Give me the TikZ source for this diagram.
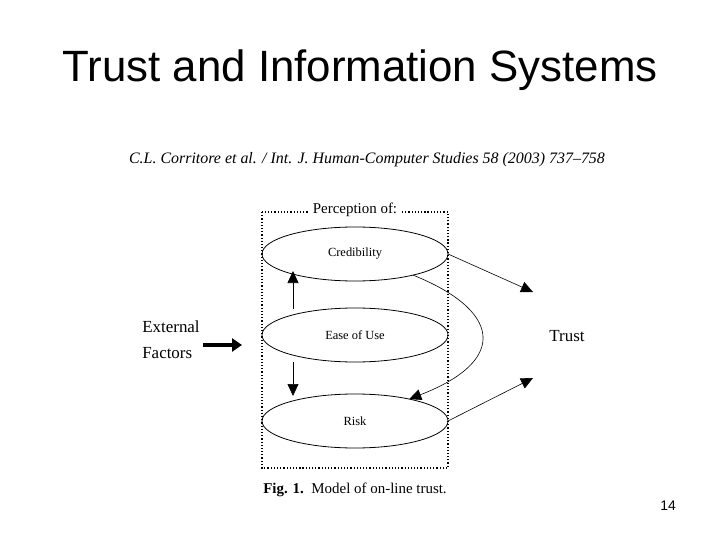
\documentclass[tikz,border=0pt]{standalone}
\usepackage{fontspec}
\setmainfont{Liberation Serif}
\newfontfamily\sans{Liberation Sans}
\usetikzlibrary{arrows.meta,shapes.geometric}
\begin{document}
\begin{tikzpicture}[x=1bp,y=-1bp,
  ell/.style={draw,ellipse,minimum width=186bp,minimum height=54bp,inner sep=0pt,outer sep=0pt,font=\fontsize{12.5}{14}\selectfont,line width=0.8pt},
  arr/.style={-{Triangle[length=12bp,width=11bp]},line width=0.6pt},
  lbl/.style={font=\fontsize{17}{20}\selectfont}]
\useasboundingbox (0,0) rectangle (720,540);
\node[font=\sans\fontsize{44}{48}\selectfont] (title) at (360,70) {Trust and Information Systems};
\node[font=\itshape\fontsize{16}{18}\selectfont] (ref) at (367,160) {C.L. Corritore et al. / Int. J. Human-Computer Studies 58 (2003) 737--758};
\draw[dotted,line width=1.2pt] (262,212) rectangle (448,468);
\node[fill=white,font=\fontsize{15}{17}\selectfont,inner sep=3pt] (perc) at (355,210) {Perception of:};
\node[ell] (cred) at (355,254) {Credibility};
\node[ell] (ease) at (355,335) {Ease of Use};
\node[ell] (risk) at (355,421) {Risk};
\node[lbl] (trust) at (567,336) {Trust};
\node[lbl,align=left] (ext) at (171,340) {External\\[6pt]Factors};
\coordinate (t1) at (533,292);
\coordinate (t2) at (533,378);
\coordinate (e1) at (293,309);
\coordinate (c1) at (293,271);
\coordinate (e2) at (293,362);
\coordinate (r1) at (293,396);
\draw[arr] (e1) -- (c1);
\draw[arr] (e2) -- (r1);
\draw[arr] (cred.east) -- (t1);
\draw[arr] (risk.east) -- (t2);
\draw[arr] (cred.-20) .. controls (500,310) and (510,360) .. (risk.22);
\draw[-{Triangle[length=10bp,width=13bp]},line width=4pt] (ext.east |- 0,345) -- (242,345);
\node[font=\bfseries\fontsize{15}{17}\selectfont] (cap) at (355,490) {Fig. 1.\ \ \mdseries Model of on-line trust.};
\node[font=\sans\fontsize{14}{16}\selectfont] (pg) at (668,506) {14};
\end{tikzpicture}
\end{document}
